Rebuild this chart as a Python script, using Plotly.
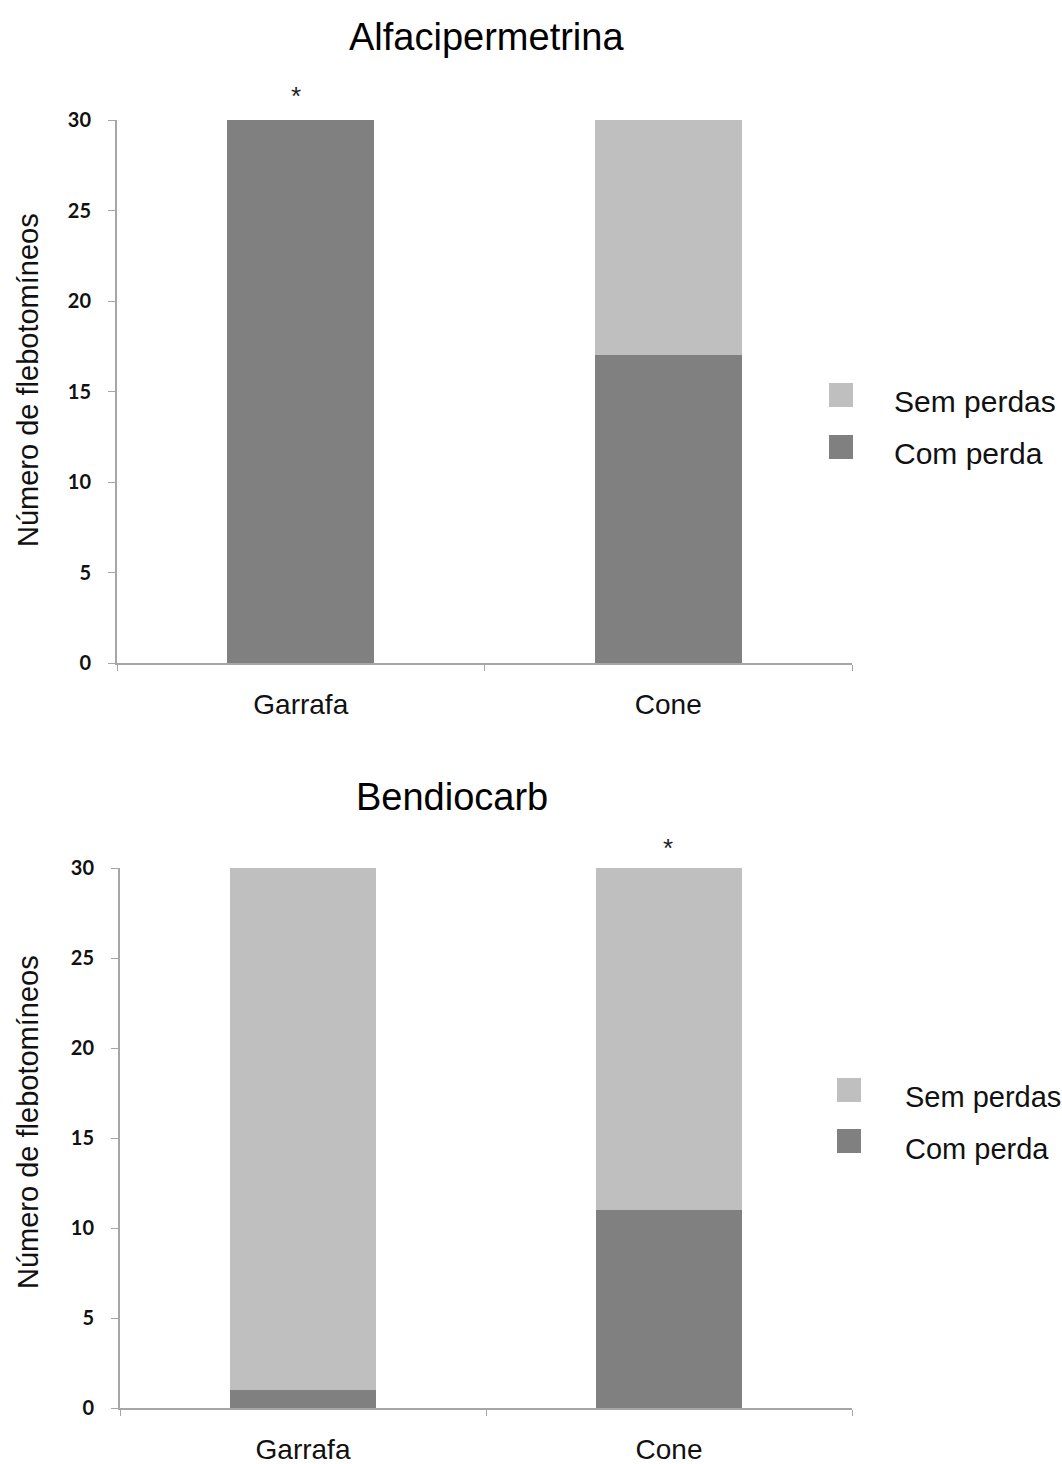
import plotly.graph_objects as go

categories = ["Garrafa", "Cone"]
series_names = ["Sem perdas", "Com perda"]
alfa_com_perda = [30, 17]
alfa_sem_perdas = [0, 13]
bendio_com_perda = [1, 11]
bendio_sem_perdas = [29, 19]
titles = ["Alfacipermetrina", "Bendiocarb"]
y_title = "Número de flebotomíneos"
y_ticks = [0, 5, 10, 15, 20, 25, 30]
star_top = "Garrafa"
star_bottom = "Cone"

W, H = 1062, 1464
MT, MB = 10, 10
DARK = "#808080"
LIGHT = "#BFBFBF"
AXIS = "#A6A6A6"
TXT = "Liberation Sans, Arial, sans-serif"
TICKF = "Lato, Liberation Sans, sans-serif"


def px_x(x):
    return x / W


def px_y(y):
    # paper coordinates relative to plot area (between margins)
    return 1 - (y - MT) / (H - MT - MB)


fig = go.Figure()
for i, (com, sem) in enumerate([(alfa_com_perda, alfa_sem_perdas),
                                (bendio_com_perda, bendio_sem_perdas)]):
    xa = "x" if i == 0 else "x2"
    ya = "y" if i == 0 else "y2"
    fig.add_trace(go.Bar(x=categories, y=com, name=series_names[1],
                         marker=dict(color=DARK, line=dict(width=0)),
                         width=0.4, xaxis=xa, yaxis=ya, showlegend=False))
    fig.add_trace(go.Bar(x=categories, y=sem, name=series_names[0],
                         marker=dict(color=LIGHT, line=dict(width=0)),
                         width=0.4, xaxis=xa, yaxis=ya, showlegend=False))

xcommon = dict(type="category", tickson="boundaries", ticks="outside", ticklen=6,
               tickcolor=AXIS, showline=True, linecolor=AXIS, linewidth=2,
               showgrid=False, zeroline=False,
               tickfont=dict(family=TXT, size=28, color="#111111"),
               ticklabelstandoff=15, fixedrange=True)
ycommon = dict(range=[0, 30], tickvals=y_ticks, ticks="outside", ticklen=7,
               tickcolor=AXIS, showline=True, linecolor=AXIS, linewidth=2,
               showgrid=False, zeroline=False,
               tickfont=dict(family=TICKF, size=20, color="#111111", weight="bold"),
               ticklabelstandoff=13, fixedrange=True)

layout = dict(
    width=W, height=H, margin=dict(l=0, r=0, t=MT, b=MB, autoexpand=False),
    paper_bgcolor="white", plot_bgcolor="white", barmode="stack",
    showlegend=False,
    xaxis=dict(domain=[px_x(117), px_x(852)], anchor="y", **xcommon),
    yaxis=dict(domain=[px_y(663), px_y(120)], anchor="x", **ycommon),
    xaxis2=dict(domain=[px_x(120), px_x(852)], anchor="y2", **xcommon),
    yaxis2=dict(domain=[px_y(1408), px_y(868)], anchor="x2", **ycommon),
)
fig.update_layout(**layout)

annotations = []
# titles
annotations.append(dict(text=titles[0], x=px_x(486), y=px_y(37), xref="paper", yref="paper",
                        showarrow=False, font=dict(family=TXT, size=38, color="#000000"),
                        xanchor="center", yanchor="middle"))
annotations.append(dict(text=titles[1], x=px_x(452), y=px_y(797), xref="paper", yref="paper",
                        showarrow=False, font=dict(family=TXT, size=38, color="#000000"),
                        xanchor="center", yanchor="middle"))
# y titles
for yc in (380, 1122):
    annotations.append(dict(text=y_title, x=px_x(28), y=px_y(yc), xref="paper", yref="paper",
                            showarrow=False, textangle=-90,
                            font=dict(family=TXT, size=29, color="#111111"),
                            xanchor="center", yanchor="middle"))
# asterisks
annotations.append(dict(text="*", x=star_top, y=30, xref="x", yref="y", showarrow=False,
                        yshift=24, xshift=-5, font=dict(family=TXT, size=26, color="#222222")))
annotations.append(dict(text="*", x=star_bottom, y=30, xref="x2", yref="y2", showarrow=False,
                        yshift=20, xshift=-1, font=dict(family=TXT, size=26, color="#222222")))

# legends (squares + text)
shapes = []
legend_specs = [
    (829, [(395, 401), (447, 453)], 892, 30),
    (837, [(1090, 1097), (1141, 1149)], 903, 29),
]
for sx, rows, tx, fs in legend_specs:
    for (sy, ty), name, col in zip(rows, series_names, [LIGHT, DARK]):
        shapes.append(dict(type="rect", xref="paper", yref="paper",
                           x0=px_x(sx), x1=px_x(sx + 24), y0=px_y(sy + 12), y1=px_y(sy - 12),
                           fillcolor=col, line=dict(width=0)))
        annotations.append(dict(text=name, x=px_x(tx), y=px_y(ty), xref="paper", yref="paper",
                                showarrow=False, xanchor="left", yanchor="middle",
                                font=dict(family=TXT, size=fs, color="#111111")))

fig.update_layout(annotations=annotations, shapes=shapes)
fig.write_html("out.html")
